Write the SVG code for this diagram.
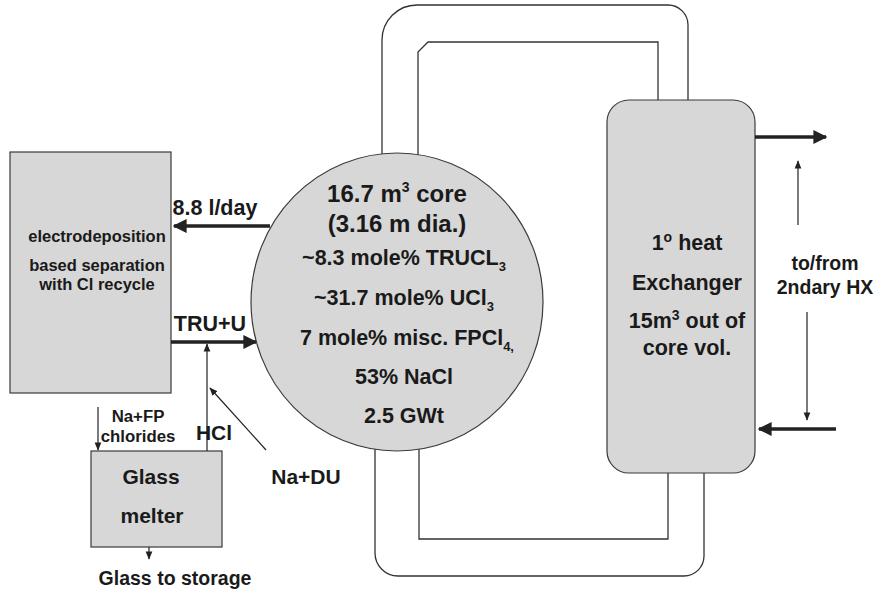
<svg xmlns="http://www.w3.org/2000/svg" width="877" height="595" viewBox="0 0 877 595">
<defs>
<style>
.t{font-family:"Liberation Sans",Arial,sans-serif;font-weight:bold;fill:#1a1a1a;text-anchor:middle}
.box{fill:#d7d7d7;stroke:#3a3a3a;stroke-width:1.2}
.pipe{fill:none;stroke:#333;stroke-width:1.3}
.thick{fill:none;stroke:#222;stroke-width:3.5}
.thin{fill:none;stroke:#222;stroke-width:1.2}
</style>
<marker id="ah" viewBox="0 0 10 10" refX="9" refY="5" markerWidth="4" markerHeight="4" orient="auto" markerUnits="strokeWidth"><path d="M0,0 L10,5 L0,10 z" fill="#222"/></marker>
<marker id="as" viewBox="0 0 10 10" refX="9" refY="5" markerWidth="7" markerHeight="7" orient="auto" markerUnits="strokeWidth"><path d="M0,1 L10,5 L0,9 z" fill="#222"/></marker>
</defs>
<rect width="877" height="595" fill="#fff"/>

<g id="pipes">
<path class="pipe" d="M382,154 L382,40 A35,35 0 0 1 417,5 L668,5 A20,20 0 0 1 688,25 L688,100"/>
<path class="pipe" d="M418,156 L418,52 L428,42 L658,42 L658,100"/>
<path class="pipe" d="M375,448 L375,553 A23,23 0 0 0 398,576 L684,576 A20,20 0 0 0 704,556 L704,473"/>
<path class="pipe" d="M419,449 L419,539 L668,539 L668,473"/>
</g>

<g id="separation">
<rect class="box" x="10" y="152" width="161" height="241"/>
<text class="t" x="97" y="242" font-size="16.5">electrodeposition</text>
<text class="t" x="97" y="271" font-size="16.5">based separation</text>
<text class="t" x="97" y="290" font-size="16.5">with Cl recycle</text>
</g>

<g id="glass">
<rect class="box" x="91" y="451" width="131" height="96"/>
<text class="t" x="151" y="484" font-size="21">Glass</text>
<text class="t" x="152" y="523" font-size="21">melter</text>
</g>

<g id="core">
<ellipse class="box" cx="397" cy="302" rx="146" ry="149"/>
<text class="t" x="397" y="202" font-size="24">16.7 m<tspan font-size="14" dy="-10">3</tspan><tspan dy="10"> core</tspan></text>
<text class="t" x="397" y="232" font-size="24">(3.16 m dia.)</text>
<text class="t" x="404" y="265" font-size="21.5">~8.3 mole% TRUCL<tspan font-size="13" dy="6">3</tspan></text>
<text class="t" x="404" y="305" font-size="21.5">~31.7 mole% UCl<tspan font-size="13" dy="6">3</tspan></text>
<text class="t" x="407" y="345" font-size="21.5">7 mole% misc. FPCl<tspan font-size="13" dy="6">4,</tspan></text>
<text class="t" x="404" y="384" font-size="21.5">53% NaCl</text>
<text class="t" x="404" y="423" font-size="21.5">2.5 GWt</text>
</g>

<g id="hx">
<rect class="box" x="607" y="100" width="148" height="373" rx="22" ry="22"/>
<text class="t" x="687" y="250" font-size="21.5">1<tspan font-size="14" dy="-8">o</tspan><tspan dy="8"> heat</tspan></text>
<text class="t" x="687" y="290" font-size="21.5">Exchanger</text>
<text class="t" x="687" y="328" font-size="21.5">15m<tspan font-size="14" dy="-8">3</tspan><tspan dy="8"> out of</tspan></text>
<text class="t" x="687" y="355" font-size="21.5">core vol.</text>
</g>

<g id="connectors">
<line class="thick" x1="270" y1="226" x2="174" y2="226" marker-end="url(#ah)"/>
<line class="thick" x1="171" y1="342" x2="256" y2="342" marker-end="url(#ah)"/>
<line class="thin" x1="207" y1="451" x2="207" y2="344" marker-end="url(#as)"/>
<line class="thin" x1="266" y1="450" x2="210" y2="388" marker-end="url(#as)"/>
<line class="thin" x1="98" y1="407" x2="98" y2="450" marker-end="url(#as)"/>
<line class="thin" x1="149" y1="547" x2="149" y2="559" marker-end="url(#as)"/>
<line class="thick" x1="755" y1="137" x2="826" y2="137" marker-end="url(#ah)"/>
<line class="thick" x1="836" y1="429" x2="759" y2="429" marker-end="url(#ah)"/>
<line class="thin" x1="798" y1="225" x2="798" y2="161" marker-end="url(#as)"/>
<line class="thin" x1="807" y1="312" x2="807" y2="420" marker-end="url(#as)"/>
</g>

<g id="labels">
<text class="t" x="215" y="215" font-size="21.5">8.8 l/day</text>
<text class="t" x="210" y="331" font-size="21.5">TRU+U</text>
<text class="t" x="138" y="422" font-size="16.8">Na+FP</text>
<text class="t" x="138" y="442" font-size="16.8">chlorides</text>
<text class="t" x="214" y="440" font-size="21">HCl</text>
<text class="t" x="306" y="484" font-size="21">Na+DU</text>
<text class="t" x="175" y="585" font-size="19.5">Glass to storage</text>
<text class="t" x="825" y="270" font-size="19.5">to/from</text>
<text class="t" x="825" y="294" font-size="19.5">2ndary HX</text>
</g>
</svg>
